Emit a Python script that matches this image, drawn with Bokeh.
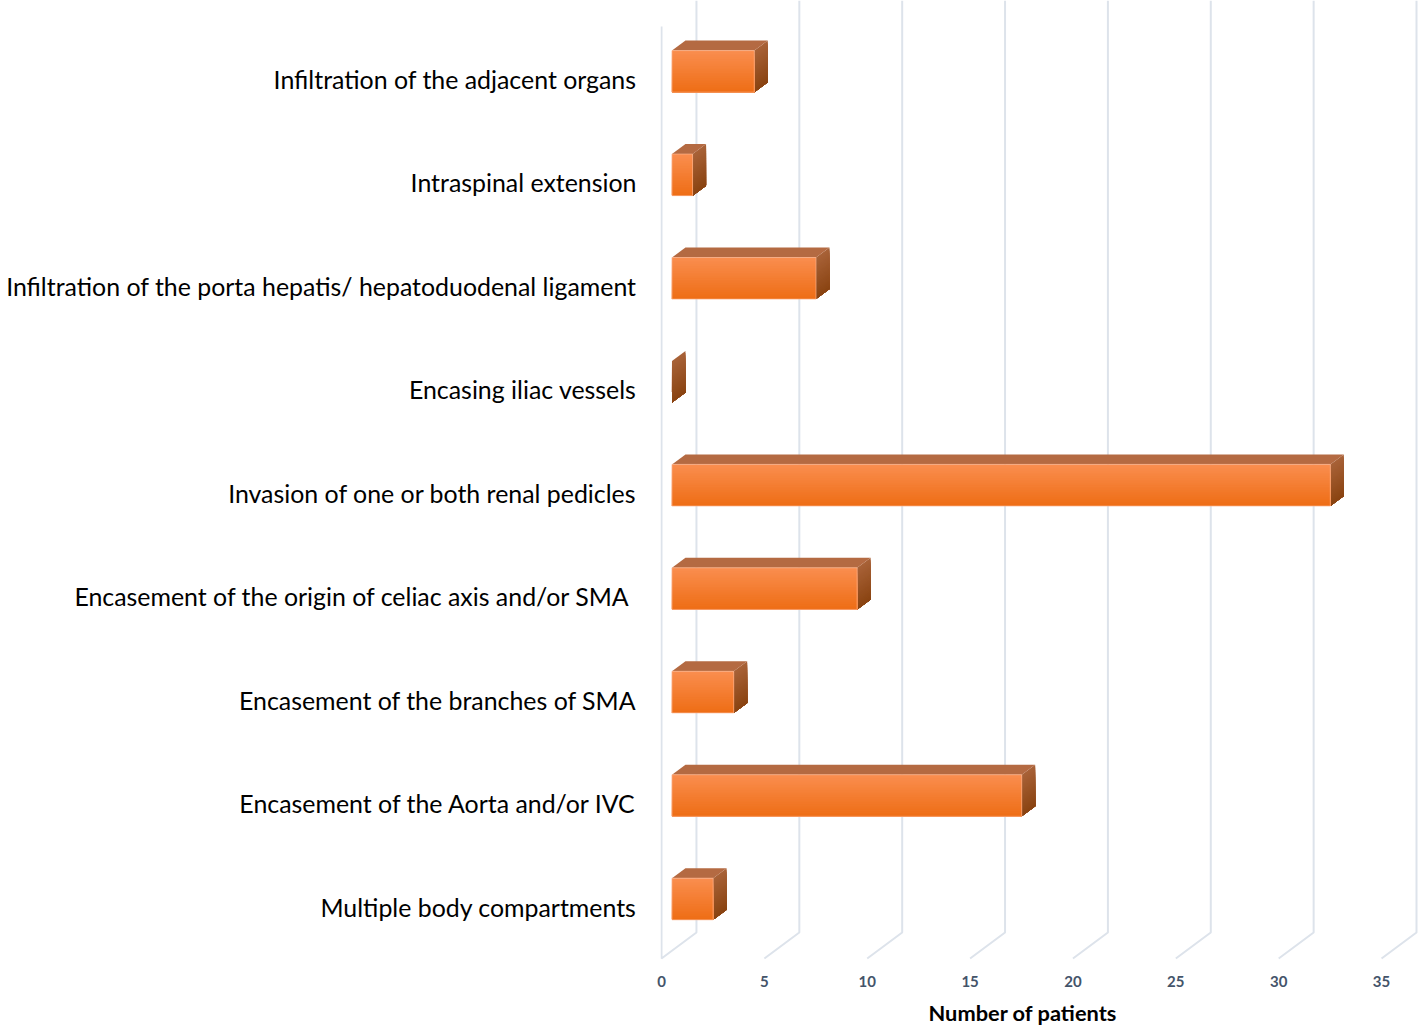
from bokeh.plotting import figure
from bokeh.embed import file_html
from bokeh.resources import INLINE
from bokeh.models import FixedTicker, Title

categories = ["Multiple body compartments", "Encasement of the Aorta and/or IVC",
              "Encasement of the branches of SMA", "Encasement of the origin of celiac axis and/or SMA ",
              "Invasion of one or both renal pedicles", "Encasing iliac vessels",
              "Infiltration of the porta hepatis/ hepatoduodenal ligament",
              "Intraspinal extension", "Infiltration of the adjacent organs"]
patients = [2, 17, 3, 9, 32, 0, 7, 1, 4]
x_ticks = [0, 5, 10, 15, 20, 25, 30, 35]
x_title = "Number of patients"

# geometry (axis units): 1 x unit = 20.6px, 1 y unit = 103.45px
PXX, PXY = 20.6, 103.45
FLOOR = -52 / PXY
GDX, GDY = 35 / PXX, 26 / PXY
TOP = 906 / PXY
BAR_OFF = 10.5 / PXX
BAR_LOW = -13.3 / PXY
BAR_H = 41.6 / PXY
BDX, BDY = 13.5 / PXX, 10 / PXY
N = 24

def mix(a, b, t):
    return "#%02x%02x%02x" % tuple(round(a[i] + (b[i] - a[i]) * t) for i in range(3))

FRONT_A, FRONT_B = (250, 141, 78), (238, 110, 22)
SIDE_A, SIDE_B = (168, 98, 56), (138, 68, 18)
TOP_C = (180, 106, 66)

p = figure(width=1418, height=1025, frame_height=960, output_backend="svg", toolbar_location=None,
           x_range=(-1 / PXX, 758 / PXX), y_range=(FLOOR - 2 / PXY, TOP),
           min_border_left=660, min_border_right=0, min_border_top=0, min_border_bottom=0,
           outline_line_color=None, background_fill_color="white", border_fill_color=None)
p.grid.visible = False

# walls and floor lines
gx, gy = [], []
for t in x_ticks:
    xs = [t, t + GDX, t + GDX]
    ys = [FLOOR, FLOOR + GDY, TOP]
    if t == 0:
        xs = [t] + xs
        ys = [TOP - GDY] + ys
    gx.append(xs)
    gy.append(ys)
p.multi_line(gx, gy, line_color="#dde3eb", line_width=2)

# bars
fl, fr, ft, fb, fc = [], [], [], [], []
sx, sy, sc = [], [], []
tx, ty, tc = [], [], []
for i, v in enumerate(patients):
    x0, x1 = BAR_OFF, BAR_OFF + v
    b = i + BAR_LOW
    for k in range(N):
        f = k / (N - 1)
        yt = b + BAR_H * (1 - k / N)
        if v > 0:
            fl.append(x0); fr.append(x1); ft.append(yt); fb.append(b)
            fc.append(mix(FRONT_A, FRONT_B, f))
        sx.append([x1, x1 + BDX, x1 + BDX, x1])
        sy.append([yt, yt + BDY, b + BDY, b])
        sc.append(mix(SIDE_A, SIDE_B, f))
    if v > 0:
        tx.append([x0, x0 + BDX, x1 + BDX, x1])
        ty.append([b + BAR_H, b + BAR_H + BDY, b + BAR_H + BDY, b + BAR_H])
        tc.append(mix(TOP_C, TOP_C, 0.5))
p.patches(sx, sy, fill_color=sc, line_color=None)
p.patches(tx, ty, fill_color=tc, line_color=None)
p.quad(left=fl, right=fr, top=ft, bottom=fb, fill_color=fc, line_color=None)
p.quad(left=[BAR_OFF for v in patients if v > 0], right=[BAR_OFF + v for v in patients if v > 0],
       bottom=[i + BAR_LOW for i, v in enumerate(patients) if v > 0],
       top=[i + BAR_LOW + BAR_H for i, v in enumerate(patients) if v > 0],
       fill_color=None, line_color="#fbb18a", line_width=1, line_alpha=0.7)

# axes
ya = p.yaxis[0]
ya.ticker = FixedTicker(ticks=list(range(len(categories))))
ya.major_label_overrides = {i: c for i, c in enumerate(categories)}
ya.major_label_text_font = "Lato"
ya.major_label_text_font_size = "24.9px"
ya.major_label_text_color = "#000000"
ya.major_label_standoff = 24
ya.major_tick_in = 0
ya.major_tick_out = 0
ya.major_tick_line_color = None
ya.minor_tick_line_color = None
ya.axis_line_color = None

xa = p.xaxis[0]
xa.ticker = FixedTicker(ticks=x_ticks)
xa.major_label_text_font = "Lato"
xa.major_label_text_font_size = "15px"
xa.major_label_text_font_style = "bold"
xa.major_label_text_color = "#44546a"
xa.major_label_standoff = 9
xa.major_tick_line_color = None
xa.minor_tick_line_color = None
xa.axis_line_color = None

p.add_layout(Title(text=x_title, align="left", offset=268, text_font="Lato", text_font_size="21.8px",
                   text_font_style="bold", text_color="#000000", standoff=14), "below")

open("out.html", "w").write(file_html(p, INLINE))
